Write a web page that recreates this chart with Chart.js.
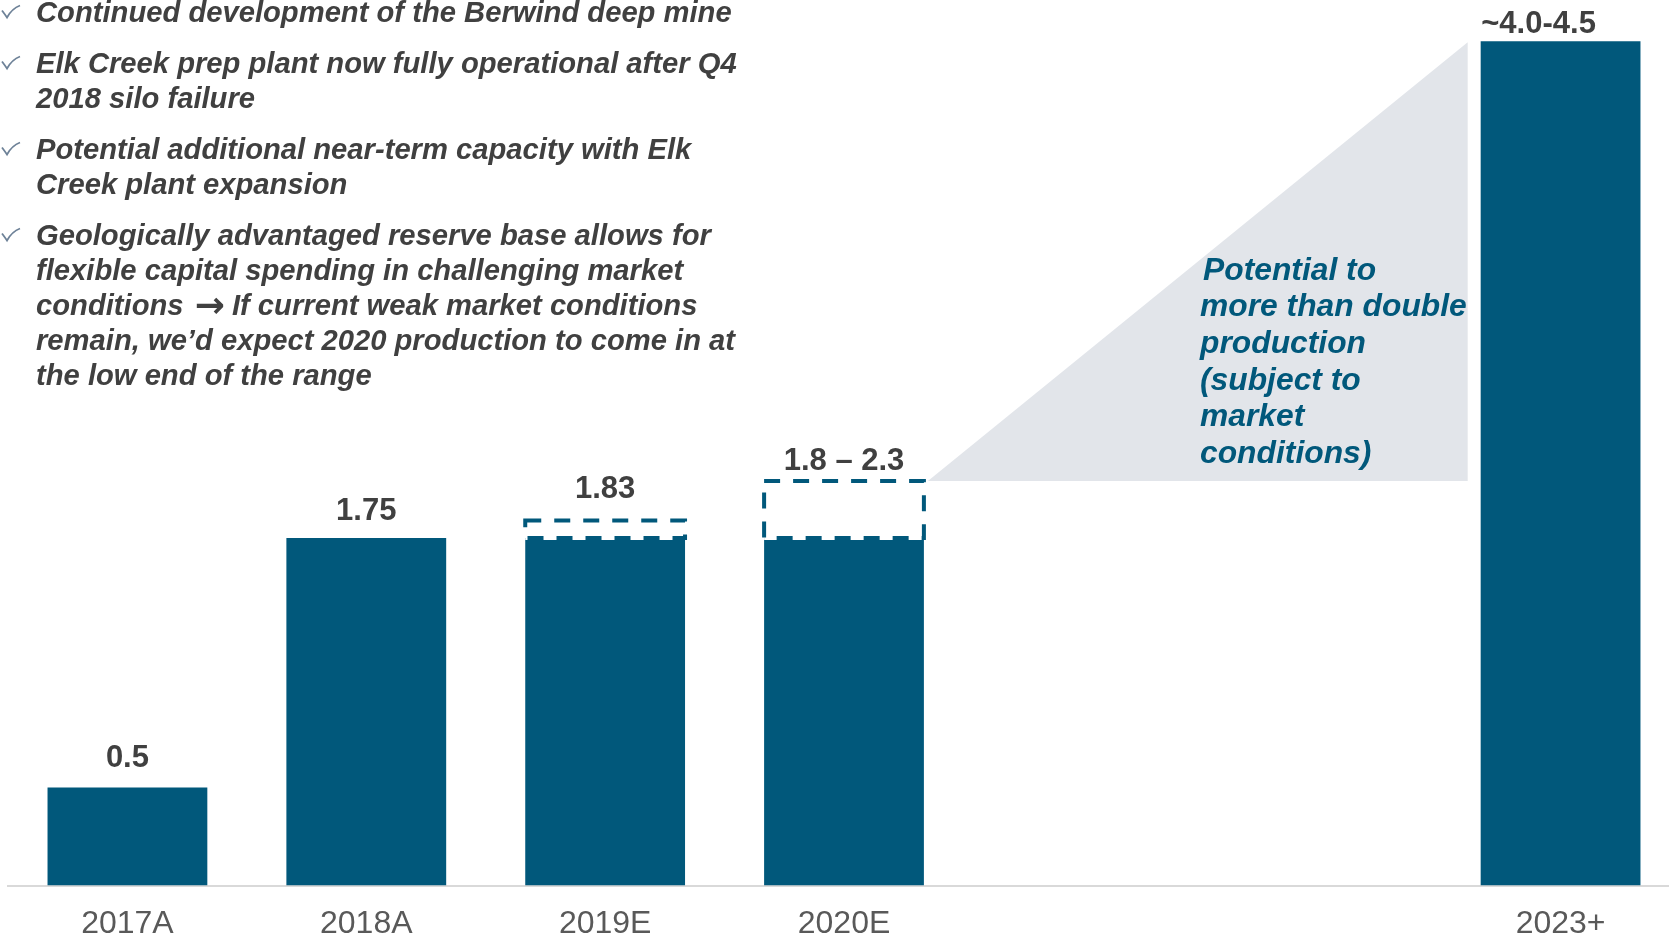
<!DOCTYPE html>
<html>
<head>
<meta charset="utf-8">
<script src="https://cdn.jsdelivr.net/npm/chart.js@4.4.1/dist/chart.umd.min.js"></script>
<style>
  html, body { margin: 0; padding: 0; background: #fff; overflow: hidden; }
  #wrap { width: 1669px; height: 937px; overflow: hidden; position: relative; }
  canvas { display: block; }
</style>
</head>
<body>
<div id="wrap"><canvas id="chart" width="1700" height="962"></canvas></div>
<script>
// production, Mt
const categories = ['2017A', '2018A', '2019E', '2020E', '', '', '2023+'];
const actualValues = [0.5, 1.77, 1.77, 1.77, null, null, 4.3];
const rangeValues = [null, null, [1.77, 1.86], [1.77, 2.06], null, null, null];
const valueLabels = ['0.5', '1.75', '1.83', '1.8 – 2.3', '', '', '~4.0-4.5'];

const bullets = [
  ['Continued development of the Berwind deep mine'],
  ['Elk Creek prep plant now fully operational after Q4', '2018 silo failure'],
  ['Potential additional near-term capacity with Elk', 'Creek plant expansion'],
  ['Geologically advantaged reserve base allows for',
   'flexible capital spending in challenging market',
   'conditions \u2192 If current weak market conditions',
   'remain, we\u2019d expect 2020 production to come in at',
   'the low end of the range']
];
const calloutLines = ['Potential to', 'more than double', 'production', '(subject to', 'market', 'conditions)'];

const BLUE = '#01587B';
const GREY_TEXT = '#404040';
const FONT = '"Liberation Sans", Arial, sans-serif';

// label offsets above each column (px)
const labelOffsets = [29, 27, 31, 20, 0, 0, 17];

const overlay = {
  id: 'overlay',
  beforeDatasetsDraw(chart) {
    const ctx = chart.ctx;
    const bars = chart.getDatasetMeta(0).data;
    const boxes = chart.getDatasetMeta(1).data;
    const from = boxes[3], to = bars[6];
    const x0 = from.x + from.width / 2 + 4;
    const y0 = from.y;
    const x1 = to.x - to.width / 2 - 13;
    const y1 = to.y + 1;
    ctx.save();
    ctx.fillStyle = '#E2E5EA';
    ctx.beginPath();
    ctx.moveTo(x0, y0);
    ctx.lineTo(x1, y0);
    ctx.lineTo(x1, y1);
    ctx.closePath();
    ctx.fill();
    ctx.restore();
  },
  afterDatasetsDraw(chart) {
    const ctx = chart.ctx;
    const boxes = chart.getDatasetMeta(1).data;
    ctx.save();
    ctx.lineWidth = 4;
    boxes.forEach((b, i) => {
      if (!rangeValues[i]) return;
      const l = b.x - b.width / 2, r = b.x + b.width / 2;
      const t = b.y, bot = b.base;
      ctx.setLineDash([]);
      ctx.strokeStyle = '#fff';
      ctx.beginPath();
      ctx.moveTo(l, bot);
      ctx.lineTo(r, bot);
      ctx.stroke();
      ctx.setLineDash([16, 13]);
      ctx.strokeStyle = BLUE;
      ctx.strokeRect(l, t, r - l, bot - t);
    });
    ctx.restore();
  },
  afterDraw(chart) {
    const ctx = chart.ctx;
    const bars = chart.getDatasetMeta(0).data;
    const boxes = chart.getDatasetMeta(1).data;
    ctx.save();
    ctx.textBaseline = 'middle';

    // value labels
    ctx.font = 'bold 31px ' + FONT;
    ctx.fillStyle = GREY_TEXT;
    ctx.textAlign = 'center';
    valueLabels.forEach((txt, i) => {
      if (!txt) return;
      let top = bars[i].y;
      if (rangeValues[i]) top = Math.min(top, boxes[i].y);
      const dx = i === 6 ? -22 : 0;
      ctx.fillText(txt, bars[i].x + dx, top - labelOffsets[i]);
    });

    // bullets
    ctx.textAlign = 'left';
    const bodyFont = 'italic bold 29.2px ' + FONT;
    let y = 13.5;
    bullets.forEach(lines => {
      ctx.strokeStyle = '#6E8298';
      ctx.lineWidth = 1.8;
      ctx.beginPath();
      ctx.moveTo(2, y - 3);
      ctx.quadraticCurveTo(5, y + 1, 7, y + 4);
      ctx.quadraticCurveTo(12, y - 5, 20, y - 8);
      ctx.stroke();
      ctx.fillStyle = GREY_TEXT;
      lines.forEach(line => {
        const parts = line.split('\u2192');
        let x = 36;
        parts.forEach((p, k) => {
          if (k > 0) {
            ctx.font = 'bold 36px "DejaVu Sans", sans-serif';
            ctx.fillText('\u2192', x + 3, y + 1);
            x += ctx.measureText('\u2192').width + 2;
          }
          ctx.font = bodyFont;
          ctx.fillText(p, x, y);
          x += ctx.measureText(p).width;
        });
        y += 35;
      });
      y += 16;
    });

    // callout in the triangle
    ctx.font = 'italic bold 31.8px ' + FONT;
    ctx.fillStyle = BLUE;
    calloutLines.forEach((line, i) => {
      ctx.fillText(line, i === 0 ? 1203 : 1200, 271 + i * 36.6);
    });
    ctx.restore();
  }
};

new Chart(document.getElementById('chart').getContext('2d'), {
  type: 'bar',
  data: {
    labels: categories,
    datasets: [{
      data: actualValues,
      backgroundColor: BLUE,
      borderWidth: 0
    }, {
      data: rangeValues,
      backgroundColor: 'rgba(0,0,0,0)',
      borderWidth: 0
    }]
  },
  options: {
    responsive: false,
    animation: false,
    devicePixelRatio: 1,
    layout: { padding: { left: 8, right: 20, top: 2, bottom: 0 } },
    datasets: {
      bar: { grouped: false, categoryPercentage: 1, barPercentage: 0.669 }
    },
    scales: {
      x: {
        grid: { display: false, drawTicks: false },
        border: { display: true, color: '#D9D9D9', width: 2 },
        ticks: {
          padding: 19,
          color: '#595959',
          font: { family: FONT, size: 32 },
          maxRotation: 0,
          autoSkip: false
        }
      },
      y: {
        display: false,
        min: 0,
        max: 4.5
      }
    },
    plugins: {
      legend: { display: false },
      tooltip: { enabled: false }
    }
  },
  plugins: [overlay]
});
</script>
</body>
</html>
